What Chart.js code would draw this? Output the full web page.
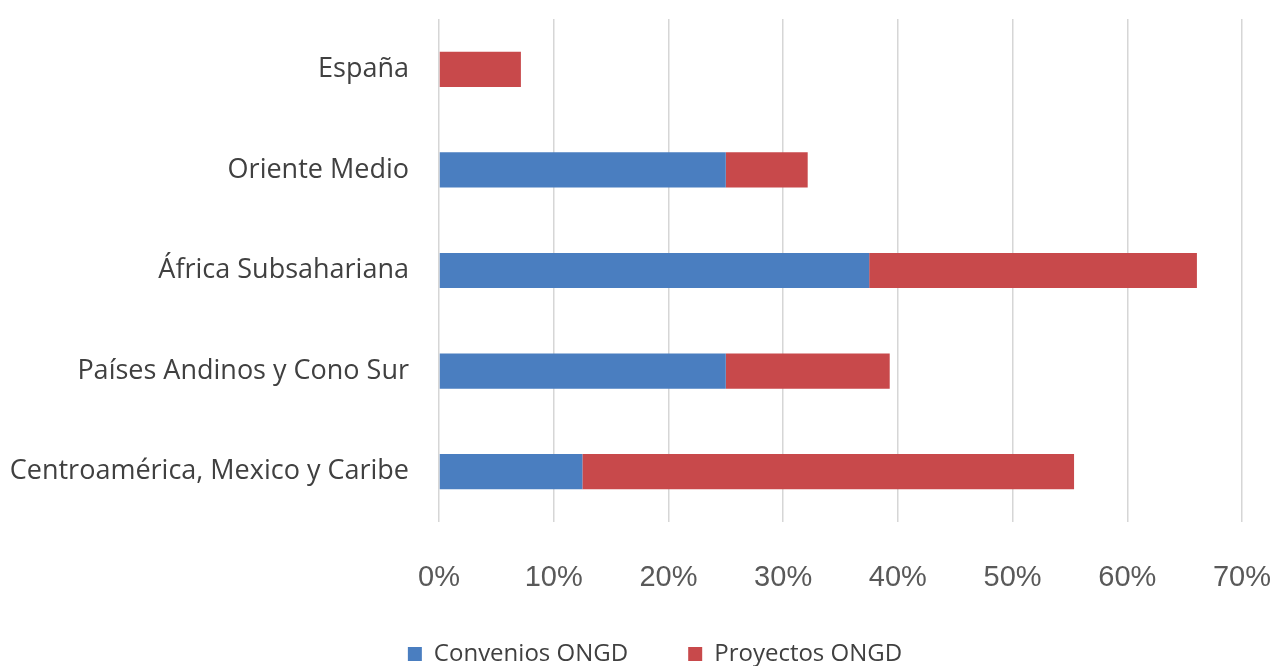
<!DOCTYPE html>
<html>
<head>
<meta charset="utf-8">
<script src="https://cdn.jsdelivr.net/npm/chart.js@4"></script>
<style>
  html, body { margin: 0; padding: 0; background: #fff; }
  #wrap { width: 1277px; height: 666px; }
</style>
</head>
<body>
<div id="wrap"><canvas id="regionChart" width="1277" height="666"></canvas></div>
<script>
// Share of ONGD funding by region (percent)
const regions = ["España", "Oriente Medio", "África Subsahariana", "Países Andinos y Cono Sur", "Centroamérica, Mexico y Caribe"];
const conveniosONGD = [0, 25, 37.5, 25, 12.5];
const proyectosONGD = [7.14, 7.14, 28.57, 14.29, 42.86];
const xTicks = [0, 10, 20, 30, 40, 50, 60, 70];

// nudge the legend a bit to the right, the original one is not centred on the page
const legendShift = {
  id: "legendShift",
  afterLayout(chart) {
    chart.legend.left += 34;
    chart.legend.right += 34;
  }
};

document.addEventListener("DOMContentLoaded", () => {
  const ctx = document.getElementById("regionChart").getContext("2d");
  new Chart(ctx, {
    type: "bar",
    data: {
      labels: regions,
      datasets: [{
        label: "Convenios ONGD",
        data: conveniosONGD,
        backgroundColor: "#4a7ec0",
        barPercentage: 0.35,
        categoryPercentage: 1
      }, {
        label: "Proyectos ONGD",
        data: proyectosONGD,
        backgroundColor: "#c8494b",
        barPercentage: 0.35,
        categoryPercentage: 1
      }]
    },
    plugins: [legendShift],
    options: {
      indexAxis: "y",
      responsive: false,
      animation: false,
      layout: { padding: { top: 19, right: 35, left: 0, bottom: -10 } },
      scales: {
        x: {
          stacked: true,
          min: 0,
          max: 70,
          afterBuildTicks: (scale) => { scale.ticks = xTicks.map(v => ({ value: v })); },
          afterFit: (scale) => { scale.height = 116; },
          ticks: {
            callback: (v) => v + "%",
            color: "#595959",
            padding: 3,
            font: { family: "Liberation Sans", size: 29 }
          },
          grid: { color: "#d6d6d6", lineWidth: 1.5, drawTicks: true, tickLength: 36, tickColor: "rgba(0,0,0,0)" },
          border: { display: false }
        },
        y: {
          stacked: true,
          afterFit: (scale) => { scale.width = 439; },
          ticks: {
            color: "#404040",
            padding: 0,
            font: { family: "Open Sans", size: 27 }
          },
          grid: { color: "rgba(0,0,0,0)", drawTicks: true, tickLength: 30, tickColor: "rgba(0,0,0,0)" },
          border: { display: false }
        }
      },
      plugins: {
        legend: {
          position: "bottom",
          labels: {
            boxWidth: 14,
            boxHeight: 14,
            padding: 4,
            color: "#404040",
            font: { family: "Open Sans", size: 24 },
            // extra space after the first entry, like the spacing in the original legend
            generateLabels: (chart) => {
              const items = Chart.defaults.plugins.legend.labels.generateLabels(chart);
              items[0].text = items[0].text + "         ";
              return items;
            }
          }
        },
        tooltip: { enabled: false }
      }
    }
  });
});
</script>
</body>
</html>
